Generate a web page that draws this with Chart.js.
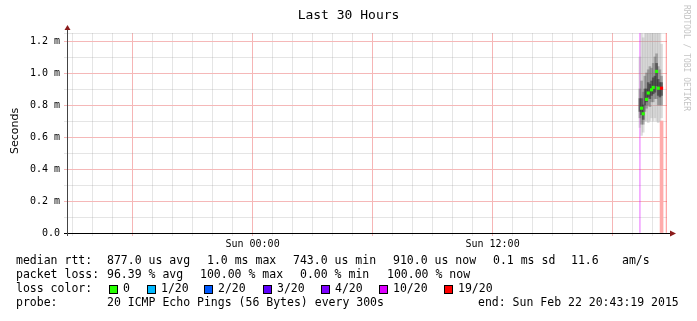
<!DOCTYPE html>
<html>
<head>
<meta charset="utf-8">
<script src="https://cdn.jsdelivr.net/npm/chart.js@4"></script>
<style>
  body { margin: 0; background: #fff; }
  canvas { display: block; }
</style>
</head>
<body>
<canvas id="myChart" width="697" height="321"></canvas>
<script>
// samples on Sunday, 5 minute steps (ms)
const times = ['19:22','19:27','19:32','19:37','19:42','19:47','19:52','19:57','20:02','20:07','20:12','20:17','20:22','20:27'];
const pingMin  = [0.66,0.61,0.63,0.70,0.70,0.69,0.70,0.72,0.70,0.72,0.70,0.69,0.70,0.72];
const pingMax  = [1.10,1.30,1.22,1.30,1.30,1.30,1.30,1.30,1.30,1.30,1.30,1.30,1.30,1.18];
const pingLow  = [0.72,0.68,0.68,0.76,0.78,0.80,0.79,0.82,0.82,0.84,0.84,0.80,0.80,0.80];
const pingHigh = [0.90,0.95,0.88,0.98,1.00,1.02,1.04,1.03,1.06,1.10,1.12,1.04,1.02,0.98];
const coreLo   = [0.76,0.74,0.71,0.80,0.82,0.85,0.84,0.86,0.87,0.88,0.92,0.86,0.85,0.86];
const coreHi   = [0.84,0.84,0.80,0.90,0.90,0.94,0.93,0.95,0.97,0.98,1.06,0.96,0.94,0.94];
const median   = [null,0.78,0.745,null,0.835,0.875,null,0.895,0.91,null,1.01,0.905,null,0.905];
const lossCount = [null,0,0,null,0,0,null,0,0,null,0,0,null,19];
const lossBarTime = ['20:27'];
const lossBarTop = [0.70];
const ruleTimes = ['19:22','20:42'];

const lossLevels = [0, 1, 2, 3, 4, 10, 19];
const lossLabels = ['0', '1/20', '2/20', '3/20', '4/20', '10/20', '19/20'];
const lossColors = ['#26ff00', '#00b8ff', '#0059ff', '#5e00ff', '#7e00ff', '#dd00ff', '#ff0000'];

// y grid values: labelled every 0.2, minor every 0.1, plus the top edge
const yMinor = [0.1, 0.3, 0.5, 0.7, 0.9, 1.1, 1.25];
const yMajor = [0.2, 0.4, 0.6, 0.8, 1.0, 1.2];

// x axis in hours since Sat 00:00
const start = 14 + 43/60 + 19/3600;
const end = start + 30;
const sun = t => { const [h, m] = t.split(':').map(Number); return 24 + h + m/60; };
const colorFor = n => lossColors[lossLevels.indexOf(n)];

const band = (lo, hi) => times.map((t, i) => ({ x: sun(t), y: [lo[i], hi[i]] }));
const barBase = { type: 'bar', barThickness: 2, grouped: false, borderWidth: 0 };

const MINOR = 'rgba(150,150,150,0.25)';
const MAJOR = 'rgba(235,90,90,0.45)';

const decor = {
  id: 'decor',
  beforeDraw(chart) {
    const c = chart.ctx;
    c.save();
    c.fillStyle = '#fff';
    c.fillRect(0, 0, chart.width, chart.height);
    c.restore();
  },
  beforeDatasetsDraw(chart) {
    const c = chart.ctx, a = chart.chartArea, y = chart.scales.y;
    c.save();
    const line = (v, col) => {
      const p = Math.round(y.getPixelForValue(v));
      c.fillStyle = col;
      c.fillRect(a.left - 3, p, a.right - a.left + 3, 1);
    };
    yMinor.forEach(v => line(v, MINOR));
    yMajor.forEach(v => line(v, '#f5b8b8'));
    c.restore();
  },
  afterDraw(chart) {
    const c = chart.ctx, a = chart.chartArea;
    c.save();
    // axes
    c.strokeStyle = '#000';
    c.lineWidth = 1;
    c.beginPath();
    c.moveTo(a.left - 3, a.bottom + 0.5); c.lineTo(a.right + 5, a.bottom + 0.5);
    c.stroke();
    c.strokeStyle = '#444';
    c.beginPath();
    c.moveTo(a.left + 0.5, a.bottom + 3); c.lineTo(a.left + 0.5, a.top - 4);
    c.stroke();
    c.fillStyle = '#8b1a1a';
    c.beginPath();
    c.moveTo(a.right + 9, a.bottom + 0.5); c.lineTo(a.right + 3, a.bottom - 2.5); c.lineTo(a.right + 3, a.bottom + 3.5);
    c.fill();
    c.beginPath();
    c.moveTo(a.left + 0.5, a.top - 8); c.lineTo(a.left - 2.5, a.top - 3); c.lineTo(a.left + 3.5, a.top - 3);
    c.fill();

    // title
    c.fillStyle = '#000';
    c.textBaseline = 'middle';
    c.textAlign = 'center';
    c.font = '13px "DejaVu Sans Mono"';
    c.fillText('Last 30 Hours', 348.5, 16);

    // unit
    c.save();
    c.translate(15, 131);
    c.rotate(-Math.PI / 2);
    c.font = '11px "DejaVu Sans"';
    c.fillText('Seconds', 0, 0);
    c.restore();

    // watermark
    c.save();
    c.translate(686, 5);
    c.rotate(Math.PI / 2);
    c.textAlign = 'left';
    c.fillStyle = '#c4c4c4';
    c.font = '8px "DejaVu Sans Mono"';
    c.fillText('RRDTOOL / TOBI OETIKER', 0, 0);
    c.restore();

    // legend
    c.textAlign = 'left';
    c.font = '11.5px "DejaVu Sans Mono"';
    const rows = [
      [261, [[16, 'median rtt:'], [107, '877.0 us avg'], [207, '1.0 ms max'], [293, '743.0 us min'], [393, '910.0 us now'], [493, '0.1 ms sd'], [571, '11.6'], [622, 'am/s']]],
      [275, [[16, 'packet loss:'], [107, '96.39 % avg'], [200, '100.00 % max'], [300, '0.00 % min'], [387, '100.00 % now']]],
      [289, [[16, 'loss color:']]],
      [303, [[16, 'probe:'], [107, '20 ICMP Echo Pings (56 Bytes) every 300s'], [478, 'end: Sun Feb 22 20:43:19 2015']]]
    ];
    rows.forEach(([y, items]) => items.forEach(([x, s]) => c.fillText(s, x, y)));
    const boxX = [109, 147, 204, 263, 321, 379, 444];
    lossLabels.forEach((lab, i) => {
      c.fillStyle = lossColors[i];
      c.fillRect(boxX[i] + 0.5, 285.5, 8, 8);
      c.strokeStyle = '#000';
      c.strokeRect(boxX[i] + 0.5, 285.5, 8, 8);
      c.fillStyle = '#000';
      c.fillText(lab, boxX[i] + 14, 289);
    });
    c.restore();
  }
};

// datasets listed top-most first (Chart.js paints the first one last)
new Chart(document.getElementById('myChart'), {
  type: 'bar',
  data: {
    datasets: [
      {
        type: 'scatter',
        data: times.map((t, i) => ({ x: sun(t), y: median[i] })).filter(p => p.y !== null),
        pointStyle: 'rect',
        pointRadius: 2.2,
        pointBorderWidth: 0,
        pointBackgroundColor: times.map((t, i) => i).filter(i => median[i] !== null).map(i => colorFor(lossCount[i]))
      },
      { ...barBase, data: band(coreLo, coreHi), backgroundColor: 'rgba(50,50,50,0.6)' },
      { ...barBase, data: band(pingLow, pingHigh), backgroundColor: 'rgba(100,100,100,0.45)' },
      { ...barBase, data: band(pingMin, pingMax), backgroundColor: 'rgba(160,160,160,0.35)' },
      { ...barBase, data: lossBarTime.map((t, i) => ({ x: sun(t), y: [0, lossBarTop[i]] })), barThickness: 3,
        backgroundColor: '#ffabab' },
      { ...barBase, data: ruleTimes.map(t => ({ x: sun(t), y: [0, 1.25] })), barThickness: 1,
        backgroundColor: ['rgba(221,0,255,0.35)', 'rgba(255,60,60,0.45)'] }
    ]
  },
  options: {
    responsive: false,
    animation: false,
    layout: { padding: { left: 0, top: 33, right: 30, bottom: 0 } },
    plugins: { legend: { display: false }, title: { display: false }, tooltip: { enabled: false } },
    scales: {
      x: {
        type: 'linear',
        offset: false,
        min: start,
        max: end,
        afterFit: s => { s.height = 88; },
        afterBuildTicks: s => { s.ticks = []; for (let h = 15; h <= 44; h++) s.ticks.push({ value: h }); },
        border: { display: false },
        grid: {
          offset: false,
          tickLength: 3,
          color: ctx => ((ctx.index + 15) % 6 === 0) ? MAJOR : MINOR
        },
        ticks: {
          autoSkip: false,
          maxRotation: 0,
          padding: 2,
          color: '#000',
          font: { family: 'DejaVu Sans Mono', size: 10 },
          callback: v => v === 24 ? 'Sun 00:00' : v === 36 ? 'Sun 12:00' : ''
        }
      },
      y: {
        min: 0,
        max: 1.25,
        afterFit: s => { s.width = 67; },
        afterBuildTicks: s => { s.ticks = []; for (let k = 0; k <= 12; k += 2) s.ticks.push({ value: k / 10 }); },
        border: { display: false },
        grid: { drawOnChartArea: false, tickLength: 3, color: 'rgba(0,0,0,0)' },
        ticks: {
          autoSkip: false,
          padding: 4,
          color: '#000',
          font: { family: 'DejaVu Sans Mono', size: 10 },
          callback: v => {
            const k = Math.round(v * 10);
            return k === 0 ? '0.0' : (k / 10).toFixed(1) + ' m';
          }
        }
      }
    }
  },
  plugins: [decor]
});
</script>
</body>
</html>
